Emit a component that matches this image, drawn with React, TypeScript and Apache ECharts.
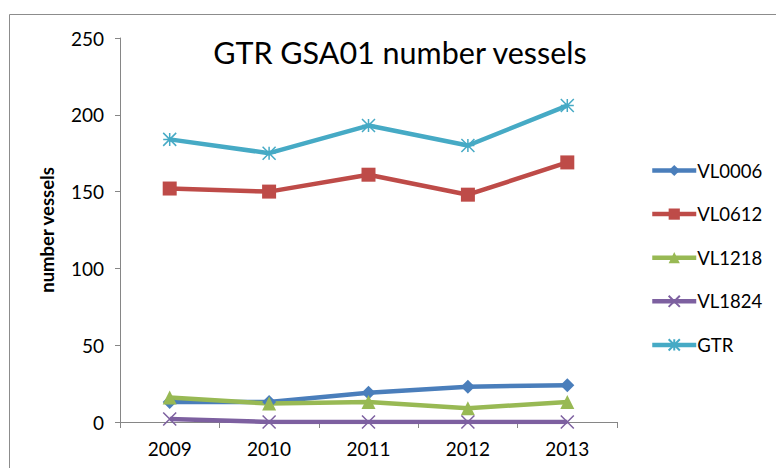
import React, { useEffect, useRef } from "react";
import * as echarts from "echarts";

const years = ["2009", "2010", "2011", "2012", "2013"];
const vl0006 = [13, 13, 19, 23, 24];
const vl0612 = [152, 150, 161, 148, 169];
const vl1218 = [16, 12, 13, 9, 13];
const vl1824 = [2, 0, 0, 0, 0];
const gtr = [184, 175, 193, 180, 206];

const FONT = "Lato, 'Open Sans', sans-serif";

export default function App() {
  const ref = useRef<HTMLDivElement>(null);
  useEffect(() => {
    if (!ref.current) return;
    const chart = echarts.init(ref.current, undefined, { renderer: "svg" });
    const mk = (name: string, data: number[], color: string, symbol: string, stroke = false) => ({
      name,
      type: "line",
      data,
      symbol,
      symbolSize: stroke ? 13 : 14,
      lineStyle: { width: 4.5, color },
      itemStyle: stroke
        ? { color: "rgba(0,0,0,0)", borderColor: color, borderWidth: 1.5 }
        : { color, borderColor: color, borderWidth: 0 },
      emphasis: { disabled: true },
      z: 3,
    });
    chart.setOption({
      animation: false,
      textStyle: { fontFamily: FONT },
      title: {
        text: "GTR GSA01 number vessels",
        left: 395,
        textAlign: "center",
        top: 31,
        textStyle: { fontSize: 30.5, fontWeight: "normal", color: "#000", fontFamily: FONT },
      },
      graphic: [
        {
          type: "rect",
          shape: { x: 9.5, y: 14.5, width: 820, height: 520 },
          style: { fill: "none", stroke: "#8c8c8c", lineWidth: 1 },
          silent: true,
          z: -10,
        },
      ],
      legend: {
        orient: "vertical",
        left: 645,
        top: 156,
        itemWidth: 44,
        itemHeight: 14,
        itemGap: 24.6,
        lineStyle: { width: 4.5 },
        textStyle: {
          fontSize: 18.5,
          lineHeight: 14,
          color: "#000",
          fontFamily: FONT,
          padding: [0, 0, 0, -4],
        },
        data: ["VL0006", "VL0612", "VL1218", "VL1824", "GTR"],
      },
      grid: { left: 120, right: 159, top: 38, bottom: 46, containLabel: false },
      xAxis: {
        type: "category",
        data: years,
        boundaryGap: true,
        axisLine: { lineStyle: { color: "#868686", width: 1 } },
        axisTick: { show: true, length: 6, lineStyle: { color: "#868686" } },
        axisLabel: { fontSize: 19, color: "#000", margin: 17, fontFamily: FONT },
        splitLine: { show: false },
      },
      yAxis: {
        type: "value",
        min: 0,
        max: 250,
        interval: 50,
        name: "number vessels",
        nameLocation: "middle",
        nameGap: 64,
        nameTextStyle: { fontSize: 18.5, fontWeight: "bold", color: "#000", fontFamily: FONT },
        axisLine: { show: true, lineStyle: { color: "#868686", width: 1 } },
        axisTick: { show: true, length: 5, lineStyle: { color: "#868686" } },
        axisLabel: { fontSize: 19, color: "#000", margin: 16, fontFamily: FONT },
        splitLine: { show: false },
      },
      series: [
        mk("VL0006", vl0006, "#4A7EBB", "diamond"),
        mk("VL0612", vl0612, "#BE4B48", "rect"),
        mk("VL1218", vl1218, "#98B954", "triangle"),
        mk("VL1824", vl1824, "#7D60A0", "path://M0,0L10,10M10,0L0,10", true),
        mk("GTR", gtr, "#46AAC5", "path://M5,0L5,10M0,0L10,10M10,0L0,10M0,5L10,5", true),
      ],
    });
    return () => chart.dispose();
  }, []);
  return (
    <div
      ref={ref}
      style={{ position: "absolute", left: 0, top: 0, width: 776, height: 468, background: "#fff" }}
    />
  );
}
